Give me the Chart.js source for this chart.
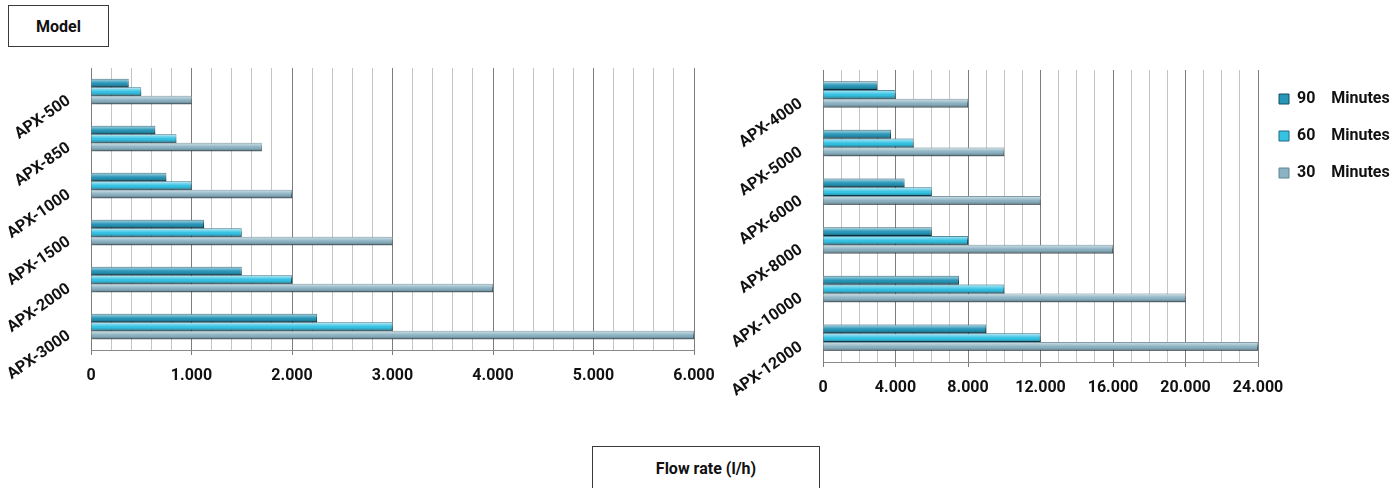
<!DOCTYPE html>
<html>
<head>
<meta charset="utf-8">
<title>Flow rate by model</title>
<script src="https://cdn.jsdelivr.net/npm/chart.js@4/dist/chart.umd.min.js"></script>
<style>
  html, body { margin: 0; padding: 0; background: #fff; width: 1393px; height: 488px; overflow: hidden; }
  body { position: relative; font-family: Roboto, "DejaVu Sans Condensed", sans-serif; }
  .box {
    position: absolute; box-sizing: border-box; border: 1px solid #3a3a3a; background: #fff;
    display: flex; align-items: center; justify-content: center;
    font-weight: bold; font-size: 16px; color: #111;
  }
  #model { left: 8px; top: 5px; width: 101px; height: 42px; }
  #flow  { left: 592px; top: 446px; width: 228px; height: 44px; }
  #leftWrap  { position: absolute; left: 0;     top: 0; width: 730px; height: 400px; }
  #rightWrap { position: absolute; left: 700px; top: 0; width: 693px; height: 410px; }
</style>
</head>
<body>
<div class="box" id="model">Model</div>
<div class="box" id="flow">Flow rate (l/h)</div>
<div id="leftWrap"><canvas id="leftChart"></canvas></div>
<div id="rightWrap"><canvas id="rightChart"></canvas></div>

<script>
// Series names (legend text)
const seriesNames = ['90    Minutes', '60    Minutes', '30    Minutes'];

// Smaller units
const leftModels = ['APX-500', 'APX-850', 'APX-1000', 'APX-1500', 'APX-2000', 'APX-3000'];
const left90 = [375, 640, 750, 1125, 1500, 2250];
const left60 = [500, 850, 1000, 1500, 2000, 3000];
const left30 = [1000, 1700, 2000, 3000, 4000, 6000];
const leftTickLabels = ['0', '1.000', '2.000', '3.000', '4.000', '5.000', '6.000'];

// Larger units
const rightModels = ['APX-4000', 'APX-5000', 'APX-6000', 'APX-8000', 'APX-10000', 'APX-12000'];
const right90 = [3000, 3750, 4500, 6000, 7500, 9000];
const right60 = [4000, 5000, 6000, 8000, 10000, 12000];
const right30 = [8000, 10000, 12000, 16000, 20000, 24000];
const rightTickLabels = ['0', '4.000', '8.000', '12.000', '16.000', '20.000', '24.000'];

const FONT = 'Roboto, "DejaVu Sans Condensed", sans-serif';
Chart.defaults.font.family = FONT;
Chart.defaults.font.weight = 'bold';
Chart.defaults.color = '#111';

const fills   = ['#2896b8', '#35c3e5', '#8cb3c3'];
const borders = ['#134f63', '#1a6a84', '#5d8494'];

// Soft drop shadow under each bar set, then a glossy bevel over every bar
const barGloss = {
  id: 'barGloss',
  beforeDatasetDraw(chart) {
    const c = chart.ctx;
    c.save();
    c.shadowColor = 'rgba(0,0,0,0.25)';
    c.shadowBlur = 5;
    c.shadowOffsetX = 2;
    c.shadowOffsetY = 2;
  },
  afterDatasetDraw(chart, args) {
    const c = chart.ctx;
    c.restore();
    c.save();
    args.meta.data.forEach(el => {
      const p = el.getProps(['x', 'y', 'base', 'height'], true);
      const top = p.y - p.height / 2;
      const left = Math.min(p.base, p.x);
      const w = Math.abs(p.x - p.base);
      const g = c.createLinearGradient(0, top, 0, top + p.height);
      g.addColorStop(0, 'rgba(255,255,255,0.15)');
      g.addColorStop(0.15, 'rgba(255,255,255,0.45)');
      g.addColorStop(0.45, 'rgba(255,255,255,0.08)');
      g.addColorStop(0.6, 'rgba(0,0,0,0.0)');
      g.addColorStop(0.88, 'rgba(0,0,0,0.22)');
      g.addColorStop(1, 'rgba(0,0,0,0.45)');
      c.fillStyle = g;
      c.fillRect(left, top, w, p.height);
    });
    c.restore();
  }
};

function buildDatasets(d90, d60, d30) {
  return [d90, d60, d30].map((vals, i) => ({
    label: seriesNames[i],
    data: vals,
    backgroundColor: fills[i],
    borderColor: borders[i],
    borderWidth: 1,
    borderSkipped: 'start',
    barPercentage: 1.0,
    categoryPercentage: 0.54
  }));
}

function makeChart(canvasId, labels, datasets, opts) {
  return new Chart(document.getElementById(canvasId), {
    type: 'bar',
    data: { labels, datasets },
    plugins: [barGloss],
    options: {
      indexAxis: 'y',
      responsive: true,
      maintainAspectRatio: false,
      animation: false,
      layout: { padding: opts.padding },
      plugins: {
        legend: opts.legend,
        tooltip: { enabled: false }
      },
      scales: {
        x: {
          min: 0,
          max: opts.max,
          afterFit(scale) { scale.height = 40; },
          ticks: {
            stepSize: opts.minorStep,
            autoSkip: false,
            maxRotation: 0,
            padding: 11,
            font: { size: 16, weight: 'bold' },
            color: '#111',
            callback(value) {
              return value % opts.majorStep === 0 ? opts.tickLabels[value / opts.majorStep] : '';
            }
          },
          grid: {
            drawOnChartArea: true,
            tickLength: 5,
            color(ctx) {
              const v = ctx.tick ? ctx.tick.value : 0;
              return v % opts.majorStep === 0 ? '#7d7d7d' : '#c4c4c4';
            },
            tickColor(ctx) {
              const v = ctx.tick ? ctx.tick.value : 0;
              return v % opts.majorStep === 0 ? '#7d7d7d' : 'rgba(0,0,0,0)';
            }
          },
          border: { display: true, color: '#8a8a8a' }
        },
        y: {
          afterFit(scale) { scale.width = opts.yWidth; },
          ticks: {
            minRotation: 35,
            maxRotation: 35,
            padding: 22,
            labelOffset: 8,
            font: { size: 16, weight: 'bold' },
            color: '#111'
          },
          grid: { display: false, drawTicks: false },
          border: { display: true, color: '#7d7d7d' }
        }
      }
    }
  });
}

makeChart('leftChart', leftModels, buildDatasets(left90, left60, left30), {
  max: 6000, minorStep: 200, majorStep: 1000, tickLabels: leftTickLabels,
  yWidth: 91,
  padding: { left: 0, top: 68, right: 36, bottom: 10 },
  legend: { display: false }
});

makeChart('rightChart', rightModels, buildDatasets(right90, right60, right30), {
  max: 24000, minorStep: 1000, majorStep: 4000, tickLabels: rightTickLabels,
  yWidth: 123,
  padding: { left: 0, top: 70, right: 0, bottom: 8 },
  legend: {
    display: true,
    position: 'right',
    align: 'start',
    maxWidth: 135,
    labels: {
      boxWidth: 10,
      boxHeight: 10,
      padding: 21,
      color: '#111',
      font: { size: 16, weight: 'bold' }
    }
  }
});
</script>
</body>
</html>
